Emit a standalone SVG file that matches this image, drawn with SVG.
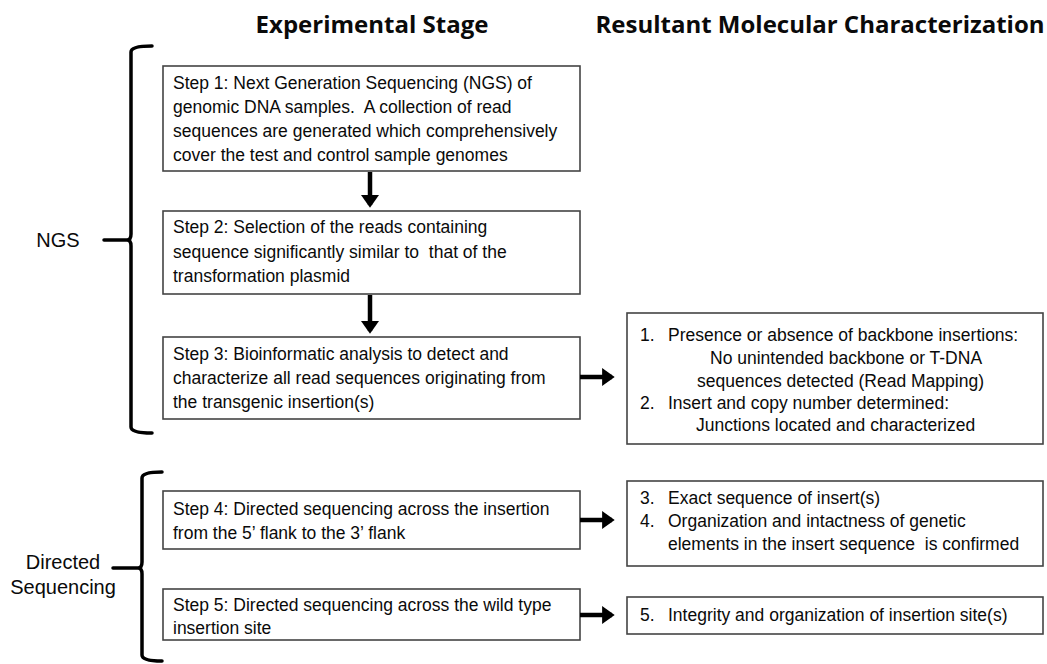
<svg xmlns="http://www.w3.org/2000/svg" width="1047" height="664" viewBox="0 0 1047 664">
<defs>
<marker id="ah" markerWidth="4" markerHeight="4" refX="2.2" refY="2" orient="auto" markerUnits="strokeWidth">
<path d="M0,0 L2.8,2 L0,4 Z" fill="#000"/>
</marker>
<style>
.box{fill:#fff;stroke:#444;stroke-width:1.6}
.t{font-family:"Liberation Sans",Arial,sans-serif;font-size:17.5px;fill:#0a0a0a}
.h{font-family:"Open Sans","Liberation Sans",sans-serif;font-size:24px;font-weight:bold;fill:#0a0a0a}
.lbl{font-family:"Liberation Sans",Arial,sans-serif;font-size:20px;fill:#0a0a0a}
.arr{stroke:#000;stroke-width:4.5;fill:none;marker-end:url(#ah)}
.br{stroke:#000;stroke-width:3.5;fill:none;stroke-linejoin:round;stroke-linecap:round}
</style>
</defs>
<rect width="1047" height="664" fill="#fff"/>
<g id="titles">
<text class="h" x="372" y="33" text-anchor="middle">Experimental Stage</text>
<text class="h" x="820" y="33" text-anchor="middle">Resultant Molecular Characterization</text>
</g>
<g id="ngs-bracket">
<path class="br" d="M152,46 Q131,46 131,52 L131,234 Q131,240 127,240 L104,240 M127,240 Q131,240 131,246 L131,427 Q131,433 152,433"/>
<text class="lbl" x="58" y="247" text-anchor="middle">NGS</text>
</g>
<g id="ds-bracket">
<path class="br" d="M162,472 Q142,472 142,478 L142,562 Q142,568 138,568 L113,568 M138,568 Q142,568 142,574 L142,655 Q142,661 162,661"/>
<text class="lbl" x="63" y="569" text-anchor="middle">Directed</text>
<text class="lbl" x="63" y="594" text-anchor="middle">Sequencing</text>
</g>
<g id="step1">
<rect class="box" x="163" y="66" width="417" height="105"/>
<text class="t" x="173" y="89">Step 1: Next Generation Sequencing (NGS) of</text>
<text class="t" x="173" y="113" xml:space="preserve">genomic DNA samples.  A collection of read</text>
<text class="t" x="173" y="137">sequences are generated which comprehensively</text>
<text class="t" x="173" y="161">cover the test and control sample genomes</text>
</g>
<g id="step2">
<rect class="box" x="163" y="211" width="417" height="83"/>
<text class="t" x="173" y="233">Step 2: Selection of the reads containing</text>
<text class="t" x="173" y="258" xml:space="preserve">sequence significantly similar to  that of the</text>
<text class="t" x="173" y="282">transformation plasmid</text>
</g>
<g id="step3">
<rect class="box" x="163" y="337" width="417" height="82"/>
<text class="t" x="173" y="360">Step 3: Bioinformatic analysis to detect and</text>
<text class="t" x="173" y="384">characterize all read sequences originating from</text>
<text class="t" x="173" y="408">the transgenic insertion(s)</text>
</g>
<g id="step4">
<rect class="box" x="163" y="491" width="417" height="58"/>
<text class="t" x="173" y="515">Step 4: Directed sequencing across the insertion</text>
<text class="t" x="173" y="539">from the 5’ flank to the 3’ flank</text>
</g>
<g id="step5">
<rect class="box" x="163" y="589" width="417" height="51"/>
<text class="t" x="173" y="611">Step 5: Directed sequencing across the wild type</text>
<text class="t" x="173" y="634">insertion site</text>
</g>
<g id="result1">
<rect class="box" x="627" y="313" width="416" height="131"/>
<text class="t" x="640" y="341">1.</text>
<text class="t" x="668" y="341">Presence or absence of backbone insertions:</text>
<text class="t" x="710" y="364">No unintended backbone or T-DNA</text>
<text class="t" x="697" y="387">sequences detected (Read Mapping)</text>
<text class="t" x="640" y="409">2.</text>
<text class="t" x="668" y="409">Insert and copy number determined:</text>
<text class="t" x="696" y="431">Junctions located and characterized</text>
</g>
<g id="result2">
<rect class="box" x="627" y="481" width="416" height="85"/>
<text class="t" x="640" y="504">3.</text>
<text class="t" x="668" y="504">Exact sequence of insert(s)</text>
<text class="t" x="640" y="527">4.</text>
<text class="t" x="668" y="527">Organization and intactness of genetic</text>
<text class="t" x="668" y="550" xml:space="preserve">elements in the insert sequence  is confirmed</text>
</g>
<g id="result3">
<rect class="box" x="627" y="597" width="416" height="37"/>
<text class="t" x="640" y="621">5.</text>
<text class="t" x="668" y="621">Integrity and organization of insertion site(s)</text>
</g>
<g id="connectors">
<line class="arr" x1="370" y1="172" x2="370" y2="205"/>
<line class="arr" x1="370" y1="295" x2="370" y2="331"/>
<line class="arr" x1="580" y1="377" x2="612" y2="377"/>
<line class="arr" x1="580" y1="520" x2="612" y2="520"/>
<line class="arr" x1="580" y1="615" x2="612" y2="615"/>
</g>
</svg>
